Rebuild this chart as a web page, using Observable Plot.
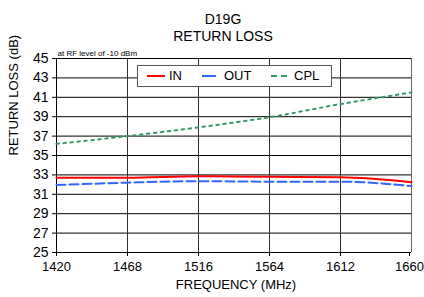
<!DOCTYPE html>
<html><head><meta charset="utf-8">
<script src="https://cdn.jsdelivr.net/npm/d3@7"></script>
<script src="https://cdn.jsdelivr.net/npm/@observablehq/plot@0.6"></script>
<style>
body{margin:0;background:#fff;font-family:"Liberation Sans",Arial,sans-serif;}
#wrap{position:relative;width:424px;height:297px;}
#legend{position:absolute;left:137px;top:65px;width:195px;height:22px;box-sizing:border-box;border:1px solid #555;background:#fff;font-size:13px;color:#000;}
#legend span{position:absolute;top:2px;}
#legend i{position:absolute;top:9px;height:0;}
</style></head>
<body><div id="wrap"></div>
<script>
const freqs = [1420, 1468, 1516, 1564, 1612, 1660];
const inLoss = [32.7, 32.7, 32.85, 32.8, 32.75, 32.25];
const outLoss = [31.95, 32.2, 32.35, 32.3, 32.3, 31.85];
const cplLoss = [36.2, 37.0, 37.9, 38.95, 40.3, 41.5];
const yTicks = [25, 27, 29, 31, 33, 35, 37, 39, 41, 43, 45];
const seriesNames = ["IN", "OUT", "CPL"];
const colors = {IN: "#ff0000", OUT: "#3366ff", CPL: "#339966"};
const dashes = {IN: null, OUT: "9,4", CPL: "2.5,4.5"};

const rows = [];
[inLoss, outLoss, cplLoss].forEach((vals, i) =>
  vals.forEach((v, j) => rows.push({series: seriesNames[i], f: freqs[j], v})));

const font = "Liberation Sans, Arial, sans-serif";
const chart = Plot.plot({
  width: 424, height: 297,
  marginTop: 58, marginBottom: 45, marginLeft: 56, marginRight: 13,
  style: {fontFamily: font, fontSize: "12px", color: "#000", background: "#fff"},
  x: {domain: [1420, 1660], label: null},
  y: {domain: [25, 45], label: null},
  marks: [
    Plot.gridY(yTicks, {stroke: "#000", strokeOpacity: 1, strokeWidth: 1}),
    Plot.gridX(freqs, {stroke: "#333", strokeOpacity: 1, strokeWidth: 1}),
    Plot.ruleX([1420], {stroke: "#000"}),
    Plot.ruleX([1660], {stroke: "#666"}),
    Plot.axisY({ticks: yTicks, tickSize: 4, tickPadding: 4, fontSize: 14, label: null}),
    Plot.axisX({ticks: freqs.slice(0, -1), tickSize: 4, tickPadding: 5, fontSize: 13, tickFormat: d => String(d), label: null}),
    Plot.axisX({ticks: freqs.slice(-1), tickSize: 4, tickPadding: 5, fontSize: 13, dx: -2, tickFormat: d => String(d), label: null}),
    ...seriesNames.map(s => Plot.line(rows.filter(r => r.series === s), {
      x: "f", y: "v", stroke: colors[s], strokeWidth: 2,
      strokeDasharray: dashes[s], curve: "monotone-x"
    })),
    Plot.text(["D19G"], {frameAnchor: "top", dy: -44, dx: -11, fontSize: 14, fill: "#000"}),
    Plot.text(["RETURN LOSS"], {frameAnchor: "top", dy: -27, dx: -11, fontSize: 14, fill: "#000"}),
    Plot.text(["at RF level of -10 dBm"], {frameAnchor: "top-left", dy: -8, dx: 1, fontSize: 8, textAnchor: "start", fill: "#000"}),
    Plot.text(["FREQUENCY (MHz)"], {frameAnchor: "bottom", dy: 36, dx: 2, fontSize: 13, fill: "#000"}),
    Plot.text(["RETURN LOSS (dB)"], {frameAnchor: "left", dx: -43, rotate: -90, fontSize: 13, fill: "#000"})
  ]
});
const wrap = document.getElementById("wrap");
wrap.appendChild(chart);
const leg = document.createElement("div");
leg.id = "legend";
const items = [
  {name: "IN", lx: 9, lw: 18, tx: 31},
  {name: "OUT", lx: 64, lw: 14, tx: 86},
  {name: "CPL", lx: 133, lw: 16, tx: 156}
];
items.forEach(it => {
  const line = document.createElement("i");
  line.style.left = it.lx + "px";
  line.style.width = it.lw + "px";
  line.style.borderTop = it.name === "CPL" ? "2px dashed " + colors.CPL : "2px solid " + colors[it.name];
  leg.appendChild(line);
  const t = document.createElement("span");
  t.style.left = it.tx + "px";
  t.textContent = it.name;
  leg.appendChild(t);
});
wrap.appendChild(leg);
</script></body></html>
